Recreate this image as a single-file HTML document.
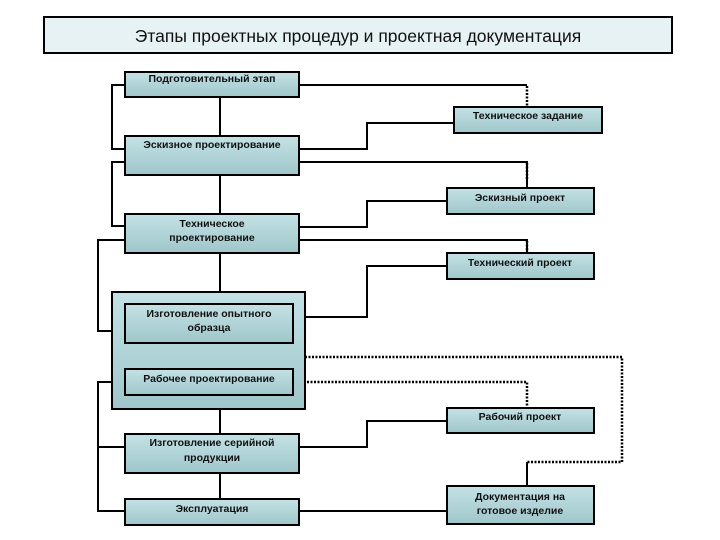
<!DOCTYPE html>
<html><head><meta charset="utf-8"><style>
body{margin:0;background:#fff;}
svg{display:block;font-family:"Liberation Sans",sans-serif;}
.b{fill:url(#g);stroke:#000;stroke-width:2;}
.t{font-size:10.5px;font-weight:bold;fill:#111;text-anchor:middle;}
.l{fill:none;stroke:#000;stroke-width:2;}
.d{fill:none;stroke:#000;stroke-width:2.5;stroke-dasharray:2 1.5;}
</style></head><body>
<svg width="720" height="540" viewBox="0 0 720 540">
<defs><linearGradient id="g" x1="0" y1="0" x2="0" y2="1"><stop offset="0" stop-color="#c4e2e5"/><stop offset="1" stop-color="#9fc6ca"/></linearGradient></defs>
<rect x="44" y="17" width="628" height="36" fill="#e6f2f3" stroke="#000" stroke-width="2"/>
<text x="358" y="42" style="font-size:17.5px;text-anchor:middle;fill:#111">Этапы проектных процедур и проектная документация</text>

<path class="l" d="M220 97V136M220 175V214M220 253V292M209 343V369M220 409V434M220 473V499"/>
<path class="l" d="M125 85H112V149H125M125 162H112V226H125M125 240H98V331H112M112 382H98V511H125M98 447H125"/>
<path class="l" d="M299 85H527M299 149H367V123H454M299 162H527V188M299 227H367V201H447M299 240H527V253M447 266H367V317H305M447 421H367V447H299M299 511H447M527 462V486"/>
<path class="d" d="M527 86V107M527 163V180M527 241V253M305 357H622V462H527M293 382H527V408"/>

<rect class="b" x="125" y="72" width="174" height="25"/><text class="t" x="212" y="82">Подготовительный этап</text>
<rect class="b" x="125" y="136" width="174" height="39"/><text class="t" x="212" y="148">Эскизное проектирование</text>
<rect class="b" x="125" y="214" width="174" height="39"/><text class="t" x="212" y="227">Техническое</text><text class="t" x="212" y="241">проектирование</text>
<rect class="b" x="112" y="292" width="193" height="117"/>
<rect class="b" x="125" y="304" width="168" height="39"/><text class="t" x="209" y="317">Изготовление опытного</text><text class="t" x="209" y="331">образца</text>
<rect class="b" x="125" y="369" width="168" height="26"/><text class="t" x="209" y="382">Рабочее проектирование</text>
<rect class="b" x="125" y="434" width="174" height="39"/><text class="t" x="212" y="446">Изготовление серийной</text><text class="t" x="212" y="461">продукции</text>
<rect class="b" x="125" y="499" width="174" height="26"/><text class="t" x="212" y="512">Эксплуатация</text>

<rect class="b" x="454" y="107" width="148" height="26"/><text class="t" x="528" y="119">Техническое задание</text>
<rect class="b" x="447" y="188" width="147" height="26"/><text class="t" x="520" y="201">Эскизный проект</text>
<rect class="b" x="447" y="253" width="147" height="26"/><text class="t" x="520" y="266">Технический проект</text>
<rect class="b" x="447" y="408" width="147" height="25"/><text class="t" x="520" y="420">Рабочий проект</text>
<rect class="b" x="447" y="486" width="147" height="38"/><text class="t" x="520" y="500">Документация на</text><text class="t" x="520" y="514">готовое изделие</text>
</svg>
</body></html>
